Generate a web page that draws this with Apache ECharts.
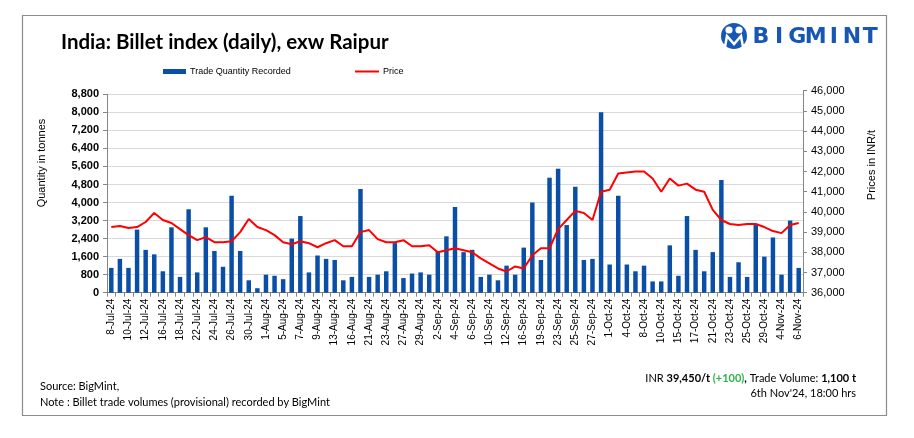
<!DOCTYPE html>
<html><head><meta charset="utf-8">
<script src="https://cdn.jsdelivr.net/npm/echarts@6/dist/echarts.min.js"></script>
<style>html,body{margin:0;padding:0;background:#fff}#c{width:914px;height:438px}</style>
</head><body><div id="c"></div>
<script>
const categories = ['8-Jul-24','9-Jul-24','10-Jul-24','11-Jul-24','12-Jul-24','15-Jul-24','16-Jul-24','17-Jul-24','18-Jul-24','19-Jul-24',
'22-Jul-24','23-Jul-24','24-Jul-24','25-Jul-24','26-Jul-24','29-Jul-24','30-Jul-24','31-Jul-24','1-Aug-24','2-Aug-24',
'5-Aug-24','6-Aug-24','7-Aug-24','8-Aug-24','9-Aug-24','12-Aug-24','13-Aug-24','14-Aug-24','16-Aug-24','20-Aug-24',
'21-Aug-24','22-Aug-24','23-Aug-24','26-Aug-24','27-Aug-24','28-Aug-24','29-Aug-24','30-Aug-24','2-Sep-24','3-Sep-24',
'4-Sep-24','5-Sep-24','6-Sep-24','9-Sep-24','10-Sep-24','11-Sep-24','12-Sep-24','13-Sep-24','16-Sep-24','18-Sep-24',
'19-Sep-24','20-Sep-24','23-Sep-24','24-Sep-24','25-Sep-24','26-Sep-24','27-Sep-24','30-Sep-24','1-Oct-24','3-Oct-24',
'4-Oct-24','7-Oct-24','8-Oct-24','9-Oct-24','10-Oct-24','14-Oct-24','15-Oct-24','16-Oct-24','17-Oct-24','18-Oct-24',
'21-Oct-24','22-Oct-24','23-Oct-24','24-Oct-24','25-Oct-24','28-Oct-24','29-Oct-24','30-Oct-24','4-Nov-24','5-Nov-24','6-Nov-24'];

const quantity = [1100,1500,1100,2800,1900,1700,950,2900,700,3700,
900,2900,1850,1150,4300,1850,550,200,800,750,
600,2400,3400,900,1650,1500,1450,550,700,4600,
700,800,950,2200,650,850,900,800,1850,2500,
3800,1800,1900,700,800,550,1200,800,2000,4000,
1450,5100,5500,3000,4700,1450,1500,8000,1250,4300,
1250,950,1200,500,500,2100,750,3400,1900,950,
1800,5000,700,1350,700,3050,1600,2450,800,3200,1100];

const price = [39250,39300,39200,39250,39500,39950,39600,39450,39150,38850,
38600,38750,38500,38500,38550,39000,39650,39250,39100,38850,
38500,38400,38550,38450,38250,38450,38600,38300,38300,39000,
39100,38650,38500,38500,38600,38300,38300,38350,38000,38100,
38200,38100,38000,37700,37450,37200,37050,37300,37200,37850,
38200,38200,39150,39600,40050,39950,39600,41000,41100,41900,
41950,42000,42000,41650,41000,41650,41300,41400,41100,41000,
40100,39600,39400,39350,39400,39400,39250,39050,38950,39350,39450];

const qtyAxis = {min: 0, max: 8800, step: 800};
const priceAxis = {min: 36000, max: 46000, step: 1000};

const titleText = 'India: Billet index (daily), exw Raipur';
const seriesNames = ['Trade Quantity Recorded', 'Price'];
const footLeft = ['Source: BigMint,', 'Note : Billet trade volumes (provisional) recorded by BigMint'];

const BLUE = '#0a4ea6';
const chart = echarts.init(document.getElementById('c'), null, {renderer: 'canvas'});
const fmt = v => v.toLocaleString('en-US');
const logoLetters = 'BIGMINT'.split('');

const graphics = [
  {type:'rect', shape:{x:22.5, y:15.5, width:864, height:400}, style:{fill:'none', stroke:'#8c8c8c', lineWidth:1.2}, silent:true},
  {type:'text', left:61, top:32, style:{text:titleText, font:'bold 20.5px Lato, sans-serif', fill:'#000'}},
  // legend
  {type:'rect', shape:{x:163, y:69, width:23, height:5}, style:{fill:BLUE}},
  {type:'text', x:190, y:71.5, style:{text:seriesNames[0], font:'9px "Liberation Sans", Arial, sans-serif', fill:'#000', textVerticalAlign:'middle'}},
  {type:'line', shape:{x1:355, y1:71.5, x2:379, y2:71.5}, style:{stroke:'#ff0000', lineWidth:2}},
  {type:'text', x:383, y:71.5, style:{text:seriesNames[1], font:'9px "Liberation Sans", Arial, sans-serif', fill:'#000', textVerticalAlign:'middle'}},
  // axis names
  {type:'text', x:42, y:163, rotation:Math.PI/2, style:{text:'Quantity in tonnes', font:'11px "Liberation Sans", Arial, sans-serif', fill:'#000', textAlign:'center', textVerticalAlign:'middle'}},
  {type:'text', x:872, y:165, rotation:Math.PI/2, style:{text:'Prices in INR/t', font:'11px "Liberation Sans", Arial, sans-serif', fill:'#000', textAlign:'center', textVerticalAlign:'middle'}},
  // footer
  {type:'text', x:40, y:386, style:{text:footLeft[0], font:'11px Lato, sans-serif', fill:'#000', textVerticalAlign:'middle'}},
  {type:'text', x:40, y:402, style:{text:footLeft[1], font:'11px Lato, sans-serif', fill:'#000', textVerticalAlign:'middle'}},
  {type:'text', x:856, y:378, style:{
    text:'{n|INR }{b|39,450/t }{g|(+100)}{b|,}{n| Trade Volume: }{b|1,100 t}',
    textAlign:'right', textVerticalAlign:'middle',
    rich:{n:{font:'11px Lato, sans-serif', fill:'#000'}, b:{font:'bold 11px Lato, sans-serif', fill:'#000'}, g:{font:'bold 11px Lato, sans-serif', fill:'#2fb34a'}}
  }},
  {type:'text', x:856, y:393, style:{text:"6th Nov'24, 18:00 hrs", font:'11px Lato, sans-serif', fill:'#000', textAlign:'right', textVerticalAlign:'middle'}},
  // logo icon
  {type:'circle', shape:{cx:734, cy:36, r:13}, style:{fill:'#1656b4'}},
  {type:'circle', shape:{cx:729, cy:30, r:3.6}, style:{fill:'#fff'}},
  {type:'circle', shape:{cx:739, cy:30, r:3.6}, style:{fill:'#fff'}},
  {type:'polyline', shape:{points:[[725,47],[727,36],[734,44],[741,36],[743,47]]}, style:{stroke:'#fff', lineWidth:2.5, fill:'none'}}
];
logoLetters.forEach((ch, i) => {
  graphics.push({type:'text', x:761 + i*18.2, y:37, style:{text:ch, font:'bold 22px "DejaVu Sans", sans-serif', fill:'#1656b4', textAlign:'center', textVerticalAlign:'middle'}});
});

const option = {
  animation: false,
  backgroundColor: '#fff',
  grid: [
    {left:107, right:111, top:94.3, bottom:145.3},
    {left:107, right:111, top:90.7, bottom:145.3}
  ],
  xAxis: [
    {type:'category', gridIndex:0, data:categories, boundaryGap:true,
     axisLine:{lineStyle:{color:'#868686', width:1}},
     axisTick:{show:true, interval:0, length:4, lineStyle:{color:'#868686'}},
     axisLabel:{interval:1, rotate:90, fontSize:10, color:'#000', fontFamily:'"Liberation Sans", Arial, sans-serif', margin:6}},
    {type:'category', gridIndex:1, data:categories, boundaryGap:true, show:false}
  ],
  yAxis: [
    {type:'value', gridIndex:0, min:qtyAxis.min, max:qtyAxis.max, interval:qtyAxis.step,
     axisLine:{show:true, lineStyle:{color:'#868686'}},
     axisTick:{show:true, length:4, lineStyle:{color:'#868686'}},
     splitLine:{lineStyle:{color:'#d9d9d9', width:1}},
     axisLabel:{formatter:fmt, fontWeight:'bold', fontSize:11, color:'#000', fontFamily:'"Liberation Sans", Arial, sans-serif', margin:8}},
    {type:'value', gridIndex:1, position:'right', min:priceAxis.min, max:priceAxis.max, interval:priceAxis.step,
     axisLine:{show:true, lineStyle:{color:'#868686'}},
     axisTick:{show:true, length:4, lineStyle:{color:'#868686'}},
     splitLine:{show:false},
     axisLabel:{formatter:fmt, fontSize:11, color:'#000', fontFamily:'"Liberation Sans", Arial, sans-serif', margin:8}}
  ],
  series: [
    {name:seriesNames[0], type:'bar', xAxisIndex:0, yAxisIndex:0, data:quantity, barWidth:'52%', itemStyle:{color:BLUE}},
    {name:seriesNames[1], type:'line', xAxisIndex:1, yAxisIndex:1, data:price, symbol:'none', smooth:false, lineStyle:{color:'#ff0000', width:2}, z:5}
  ],
  graphic: graphics
};
chart.setOption(option);
</script></body></html>
